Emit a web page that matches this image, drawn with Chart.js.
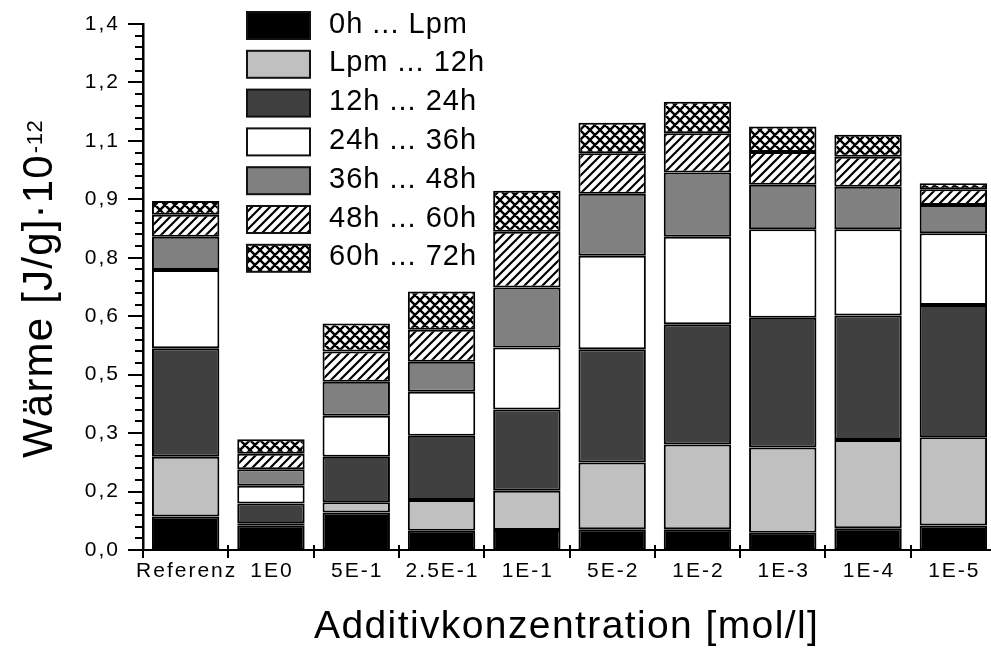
<!DOCTYPE html>
<html>
<head>
<meta charset="utf-8">
<script src="https://cdn.jsdelivr.net/npm/chart.js@4.4.1/dist/chart.umd.min.js"></script>
<style>
  html, body { margin: 0; padding: 0; background: #fff; overflow: hidden; }
  #wrap { width: 1000px; height: 648px; }
</style>
</head>
<body>
<div id="wrap"><canvas id="chart" width="1000" height="648"></canvas></div>
<script>
// Additive concentrations on the x axis
const categories = ['Referenz', '1E0', '5E-1', '2.5E-1', '1E-1', '5E-2', '1E-2', '1E-3', '1E-4', '1E-5'];

// Heat released per time window, J/g * 1e-12 (stacked)
const heat0hToLpm   = [0.089, 0.066, 0.100, 0.051, 0.053, 0.055, 0.055, 0.046, 0.058, 0.065];
const heatLpmTo12h  = [0.159, 0.005, 0.027, 0.082, 0.105, 0.178, 0.226, 0.227, 0.235, 0.235];
const heat12hTo24h  = [0.289, 0.053, 0.121, 0.171, 0.216, 0.301, 0.320, 0.345, 0.331, 0.352];
const heat24hTo36h  = [0.208, 0.047, 0.109, 0.117, 0.165, 0.249, 0.233, 0.236, 0.230, 0.191];
const heat36hTo48h  = [0.089, 0.044, 0.091, 0.080, 0.160, 0.165, 0.171, 0.118, 0.113, 0.075];
const heat48hTo60h  = [0.058, 0.041, 0.080, 0.085, 0.148, 0.108, 0.104, 0.087, 0.080, 0.042];
const heat60hTo72h  = [0.037, 0.039, 0.075, 0.102, 0.109, 0.081, 0.084, 0.068, 0.058, 0.016];

const seriesLabels = ['0h ... Lpm', 'Lpm ... 12h', '12h ... 24h', '24h ... 36h', '36h ... 48h', '48h ... 60h', '60h ... 72h'];

// Y axis: 9 equal intervals up to 1.4, labels rounded to one decimal
const yMax = 1.4;
const yTickLabels = ['0,0', '0,2', '0,3', '0,5', '0,6', '0,8', '0,9', '1,1', '1,2', '1,4'];

const FONT = '"Liberation Sans", Arial, sans-serif';

function hatchPattern(size, width) {
  const c = document.createElement('canvas');
  c.width = size; c.height = size;
  const g = c.getContext('2d');
  g.fillStyle = '#fff'; g.fillRect(0, 0, size, size);
  g.strokeStyle = '#000'; g.lineWidth = width;
  g.beginPath();
  g.moveTo(-size, 2 * size); g.lineTo(2 * size, -size);
  g.moveTo(-size, size); g.lineTo(size, -size);
  g.moveTo(0, 2 * size); g.lineTo(2 * size, 0);
  g.stroke();
  return g.createPattern(c, 'repeat');
}

function crossPattern(size, width) {
  const c = document.createElement('canvas');
  c.width = size; c.height = size;
  const g = c.getContext('2d');
  g.fillStyle = '#fff'; g.fillRect(0, 0, size, size);
  g.strokeStyle = '#000'; g.lineWidth = width;
  g.beginPath();
  g.moveTo(-size, 2 * size); g.lineTo(2 * size, -size);
  g.moveTo(-size, size); g.lineTo(size, -size);
  g.moveTo(0, 2 * size); g.lineTo(2 * size, 0);
  g.moveTo(-size, -size); g.lineTo(2 * size, 2 * size);
  g.moveTo(-size, 0); g.lineTo(size, 2 * size);
  g.moveTo(0, -size); g.lineTo(2 * size, size);
  g.stroke();
  return g.createPattern(c, 'repeat');
}

const fills = ['#000000', '#c0c0c0', '#404040', '#ffffff', '#808080', hatchPattern(9, 2.2), crossPattern(10, 2.4)];
const seriesData = [heat0hToLpm, heatLpmTo12h, heat12hTo24h, heat24hTo36h, heat36hTo48h, heat48hTo60h, heat60hTo72h];

const datasets = seriesData.map((d, i) => ({
  label: seriesLabels[i],
  data: d,
  backgroundColor: fills[i],
  borderColor: '#000',
  borderWidth: 2,
  borderSkipped: false,
  categoryPercentage: 1,
  barPercentage: 0.79,
  stack: 'heat'
}));

function line(ctx, x1, y1, x2, y2) {
  ctx.beginPath(); ctx.moveTo(x1, y1); ctx.lineTo(x2, y2); ctx.stroke();
}

// Text with tracking; font first, then spacing
function spacedText(ctx, text, x, y, font, spacing, align, baseline) {
  ctx.font = font;
  ctx.letterSpacing = spacing + 'px';
  ctx.textAlign = align;
  ctx.textBaseline = baseline;
  ctx.fillText(text, x, y);
}

// Tick marks, tick labels, legend and axis titles
const decorations = {
  id: 'decorations',
  afterDraw(chart) {
    const ctx = chart.ctx;
    const xs = chart.scales.x, ys = chart.scales.y;
    const area = chart.chartArea;
    ctx.save();
    ctx.strokeStyle = '#000';
    ctx.fillStyle = '#000';
    ctx.lineWidth = 2;

    const step = yMax / (yTickLabels.length - 1);
    for (let i = 0; i < yTickLabels.length; i++) {
      const py = Math.round(ys.getPixelForValue(i * step));
      line(ctx, area.left - 15, py, area.left, py);
      if (i < yTickLabels.length - 1) {
        for (let j = 1; j < 5; j++) {
          const pm = Math.round(ys.getPixelForValue((i + j / 5) * step));
          line(ctx, area.left - 8, pm, area.left, pm);
        }
      }
      spacedText(ctx, yTickLabels[i], area.left - 23, ys.getPixelForValue(i * step), '21px ' + FONT, 2, 'right', 'middle');
    }
    for (let i = 0; i <= categories.length; i++) {
      const px = Math.round(xs.getPixelForValue(i - 0.5));
      line(ctx, px, area.bottom - 5, px, area.bottom + 8);
    }
    categories.forEach((c, i) => {
      spacedText(ctx, c, xs.getPixelForValue(i) + 1, area.bottom + 21.5, '21px ' + FONT, 2, 'center', 'middle');
    });

    // legend
    chart.data.datasets.forEach((ds, i) => {
      const bx = 247, by = 12 + i * 38.8, bw = 63, bh = 27;
      ctx.fillStyle = ds.backgroundColor;
      ctx.fillRect(bx, by, bw, bh);
      ctx.lineWidth = 2;
      ctx.strokeStyle = '#111';
      ctx.strokeRect(bx, by, bw, bh);
      ctx.fillStyle = '#000';
      spacedText(ctx, ds.label, 329, by + bh / 2 - 1, '29px ' + FONT, 1, 'left', 'middle');
    });

    // y title with superscript exponent
    ctx.save();
    ctx.translate(52, 458);
    ctx.rotate(-Math.PI / 2);
    const main = 'Wärme [J/g]·10';
    spacedText(ctx, main, 0, 0, '42px ' + FONT, 1.2, 'left', 'alphabetic');
    const w = ctx.measureText(main).width;
    spacedText(ctx, '-12', w + 1, -10, '22px ' + FONT, 0.5, 'left', 'alphabetic');
    ctx.restore();

    // x title
    spacedText(ctx, 'Additivkonzentration [mol/l]', 314, 638, '39px ' + FONT, 1.4, 'left', 'alphabetic');
    ctx.restore();
  }
};

new Chart(document.getElementById('chart'), {
  type: 'bar',
  data: { labels: categories, datasets },
  options: {
    responsive: false,
    animation: false,
    layout: { padding: { top: 24, right: 4, left: 0, bottom: 0 } },
    plugins: { legend: { display: false }, tooltip: { enabled: false } },
    scales: {
      x: {
        stacked: true,
        offset: true,
        grid: { display: false, drawTicks: false },
        border: { display: true, color: '#000', width: 2 },
        ticks: { display: false },
        afterFit(scale) {
          scale.height = 98;
          scale.paddingLeft = 0;
          scale.paddingRight = 0;
        }
      },
      y: {
        stacked: true,
        min: 0,
        max: yMax,
        grid: { display: false, drawTicks: false },
        border: { display: true, color: '#000', width: 2.5 },
        ticks: { display: false },
        afterBuildTicks(scale) {
          scale.ticks = yTickLabels.map((_, i) => ({ value: i * yMax / (yTickLabels.length - 1) }));
        },
        afterFit(scale) {
          scale.width = 143;
          scale.paddingTop = 0;
          scale.paddingBottom = 0;
        }
      }
    }
  },
  plugins: [decorations]
});
</script>
</body>
</html>
